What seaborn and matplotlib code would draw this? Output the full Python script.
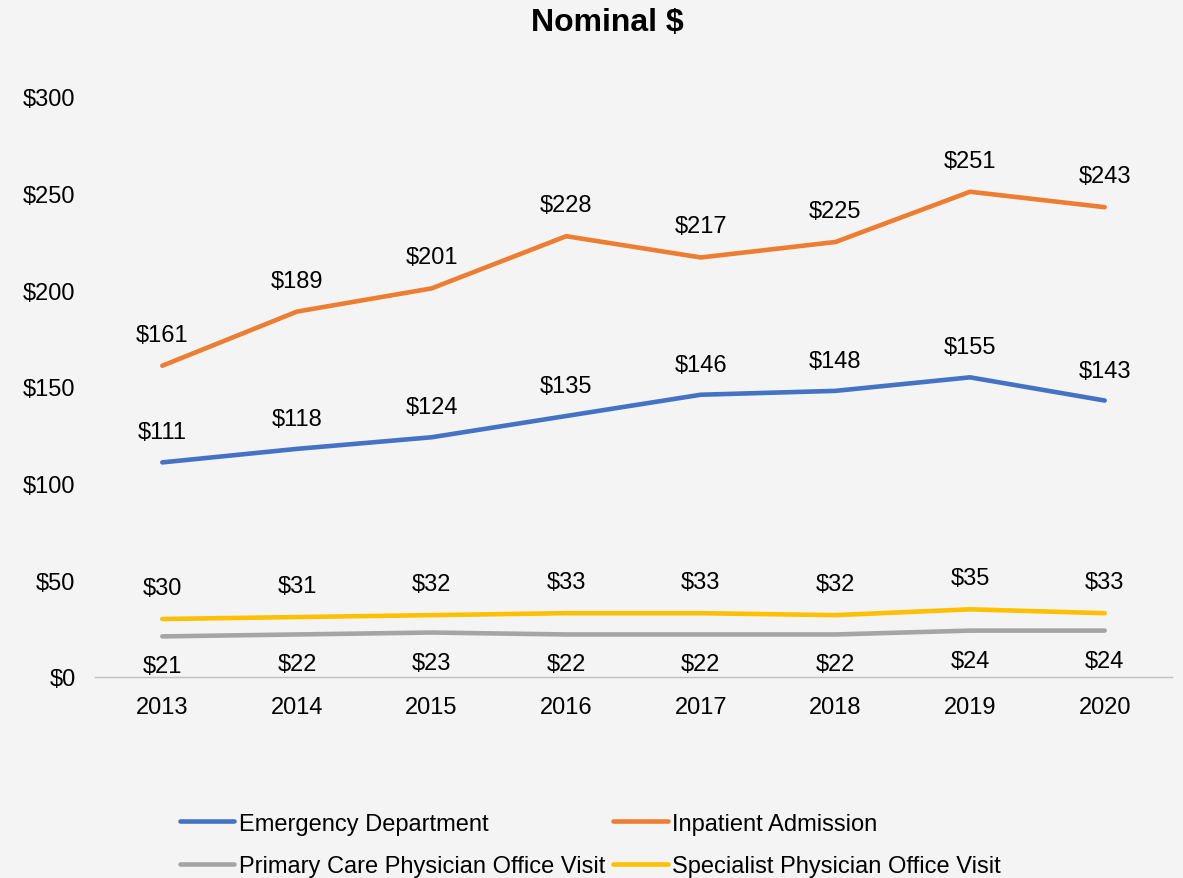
import matplotlib
matplotlib.use("Agg")
import matplotlib.pyplot as plt
import seaborn as sns
import pandas as pd
from matplotlib.lines import Line2D

years = [2013, 2014, 2015, 2016, 2017, 2018, 2019, 2020]
emergency = [111, 118, 124, 135, 146, 148, 155, 143]
inpatient = [161, 189, 201, 228, 217, 225, 251, 243]
primary = [21, 22, 23, 22, 22, 22, 24, 24]
specialist = [30, 31, 32, 33, 33, 32, 35, 33]

series_names = ["Emergency Department", "Inpatient Admission",
                "Primary Care Physician Office Visit", "Specialist Physician Office Visit"]
series_vals = [emergency, inpatient, primary, specialist]
colors = ["#4472C4", "#ED7D31", "#A5A5A5", "#FFC000"]
label_offsets = [30, 31, -30, 31]

rows = []
for name, vals in zip(series_names, series_vals):
    for y, v in zip(years, vals):
        rows.append({"Year": y, "Value": v, "Series": name})
df = pd.DataFrame(rows)

sns.set_style("white")
plt.rcParams["font.family"] = ["Liberation Sans", "DejaVu Sans"]

FS = 17
bg = "#F4F4F4"
fig = plt.figure(figsize=(11.83, 8.79), dpi=100, facecolor=bg)
ax = fig.add_axes([95/1183, 1-678/879, (1172-95)/1183, (678-98)/879])
ax.set_facecolor(bg)

sns.lineplot(data=df, x="Year", y="Value", hue="Series", hue_order=series_names,
             palette=colors, linewidth=3.3, ax=ax, legend=False)

for name, vals, off in zip(series_names, series_vals, label_offsets):
    for y, v in zip(years, vals):
        ax.annotate(f"${v}", (y, v), xytext=(0, off), textcoords="offset pixels",
                    ha="center", va="center", fontsize=FS, color="black")

ax.set_xlim(2012.5, 2020.5)
ax.set_ylim(0, 300)
ax.set_xticks(years)
ax.set_xticklabels([str(y) for y in years], fontsize=FS, color="black")
yt = [0, 50, 100, 150, 200, 250, 300]
ax.set_yticks(yt)
ax.set_yticklabels([f"${t}" for t in yt], fontsize=FS, color="black")
ax.tick_params(axis="x", length=0, pad=14)
ax.tick_params(axis="y", length=0, pad=14)
for s in ["top", "right", "left"]:
    ax.spines[s].set_visible(False)
ax.spines["bottom"].set_color("#BFBFBF")
ax.spines["bottom"].set_linewidth(1)
ax.set_xlabel("")
ax.set_ylabel("")

fig.text(607/1183, 1-23/879, "Nominal $", ha="center", va="center", fontsize=23,
         fontweight="bold", color="black")

order = [0, 2, 1, 3]
handles = [Line2D([0], [0], color=colors[i], lw=3.3) for i in order]
labels = [series_names[i] for i in order]
fig.legend(handles, labels, loc="center", bbox_to_anchor=(0.499, 1-846/879), ncol=2,
           frameon=False, fontsize=FS, handlelength=2.3, handletextpad=0.2,
           columnspacing=0.35, labelspacing=0.88, labelcolor="black")

fig.savefig("out.png", dpi=100, facecolor=bg)
